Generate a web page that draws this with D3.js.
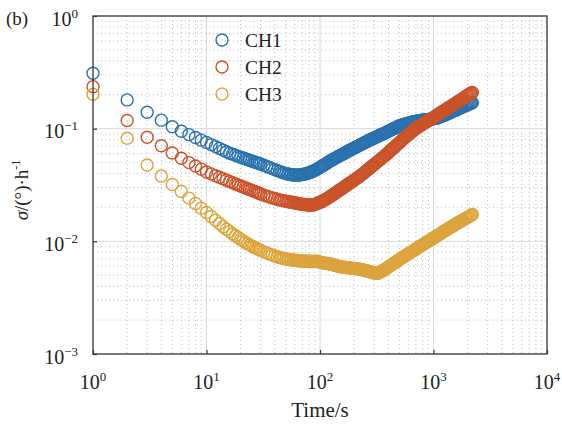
<!DOCTYPE html>
<html>
<head>
<meta charset="utf-8">
<script src="https://cdn.jsdelivr.net/npm/d3@7"></script>
<style>
  body { margin: 0; background: #fff; }
  text { font-family: "Liberation Serif", "Times New Roman", serif; fill: #222; }
</style>
</head>
<body>
<div id="chart"></div>
<script>
// averaging time (s)
const tau = [1,2,3,4,5,6,7,8,9,10,11,12,13,14,15,16,17,18,19,20,
  21,22,23,24,25,26,27,28,29,30,32,34,36,38,40,42,44,46,48,
  50,52,53,55,56,58,59,61,62,64,
  65,67,68,70,72,74,76,78,80,82,
  84,86,88,90,93,95,98,100,103,105,
  108,111,114,117,120,123,126,129,132,135,
  138,141,145,148,152,156,160,164,168,172,
  176,180,185,190,194,199,204,209,214,220,
  225,230,236,242,248,254,260,266,273,280,
  287,294,301,308,316,324,332,340,348,357,
  366,375,384,394,403,413,423,434,444,455,
  466,478,490,502,514,527,540,554,567,581,
  595,610,625,640,656,672,689,706,723,741,
  759,778,797,817,837,858,879,901,923,946,
  969,993,1017,1042,1068,1094,1121,1149,1177,1206,
  1236,1267,1298,1330,1363,1397,1431,1467,1503,1540,
  1578,1618,1657,1698,1740,1784,1827,1872,1918,1966,
  2014,2064,2115,2158,2200];

const ch1 = [0.310,0.180,0.140,0.119,0.104,0.0948,0.0886,0.0835,0.0791,0.0755,
  0.0722,0.0693,0.0668,0.0645,0.0624,0.0606,0.0592,0.0580,0.0568,0.0558,
  0.0549,0.0540,0.0531,0.0524,0.0516,0.0509,0.0503,0.0497,0.0491,0.0485,
  0.0474,0.0462,0.0452,0.0442,0.0433,0.0425,0.0418,0.0411,0.0405,
  0.0400,0.0397,0.0394,0.0392,0.0390,0.0389,0.0388,0.0387,0.0387,0.0387,
  0.0388,0.0389,0.0390,0.0392,0.0394,0.0396,0.0399,0.0402,0.0406,0.0410,
  0.0413,0.0418,0.0422,0.0427,0.0433,0.0440,0.0447,0.0454,0.0461,0.0468,
  0.0474,0.0483,0.0491,0.0500,0.0508,0.0516,0.0524,0.0531,0.0538,0.0545,
  0.0551,0.0559,0.0566,0.0574,0.0581,0.0589,0.0597,0.0605,0.0613,0.0622,
  0.0630,0.0639,0.0647,0.0655,0.0663,0.0672,0.0680,0.0689,0.0697,0.0707,
  0.0716,0.0725,0.0734,0.0744,0.0754,0.0763,0.0771,0.0781,0.0790,0.0800,
  0.0810,0.0819,0.0828,0.0838,0.0847,0.0858,0.0868,0.0878,0.0888,0.0897,
  0.0906,0.0918,0.0929,0.0941,0.0952,0.0964,0.0975,0.0987,0.0999,0.101,
  0.102,0.1035,0.105,0.106,0.107,0.108,0.109,0.1095,0.110,0.111,
  0.112,0.1125,0.113,0.114,0.115,0.1155,0.116,0.1165,0.117,0.1175,
  0.118,0.1185,0.119,0.1195,0.120,0.120,0.120,0.1205,0.121,0.1215,
  0.122,0.1225,0.123,0.1235,0.124,0.125,0.126,0.1275,0.129,0.130,
  0.131,0.1325,0.134,0.1355,0.137,0.1385,0.140,0.142,0.144,0.145,
  0.146,0.148,0.150,0.1515,0.153,0.155,0.157,0.1585,0.160,0.162,
  0.164,0.1655,0.167,0.1685,0.170];

const ch2 = [0.236,0.118,0.0838,0.0705,0.0608,0.0546,0.0500,0.0466,0.0437,0.0412,
  0.0397,0.0382,0.0370,0.0359,0.0349,0.0340,0.0331,0.0323,0.0316,0.0310,
  0.0304,0.0299,0.0293,0.0288,0.0284,0.0279,0.0275,0.0271,0.0267,0.0263,
  0.0257,0.0252,0.0247,0.0243,0.0240,0.0236,0.0233,0.0231,0.0229,
  0.0227,0.0226,0.0224,0.0223,0.0222,0.0221,0.0220,0.0219,0.0218,0.0217,
  0.0216,0.0215,0.0214,0.0213,0.0212,0.0212,0.0211,0.0211,0.0210,0.0210,
  0.0210,0.0210,0.0211,0.0213,0.0215,0.0218,0.0220,0.0222,0.0224,0.0228,
  0.0231,0.0235,0.0238,0.0242,0.0246,0.0250,0.0254,0.0258,0.0262,0.0266,
  0.0270,0.0275,0.0280,0.0285,0.0289,0.0294,0.0299,0.0305,0.0310,0.0315,
  0.0320,0.0326,0.0331,0.0337,0.0342,0.0349,0.0355,0.0361,0.0366,0.0373,
  0.0380,0.0387,0.0394,0.0403,0.0411,0.0419,0.0427,0.0436,0.0444,0.0454,
  0.0463,0.0473,0.0482,0.0492,0.0502,0.0513,0.0523,0.0534,0.0545,0.0556,
  0.0567,0.0579,0.0591,0.0605,0.0618,0.0633,0.0647,0.0661,0.0675,0.0691,
  0.0706,0.0722,0.0738,0.0755,0.0771,0.0789,0.0806,0.0825,0.0843,0.0862,
  0.0881,0.0898,0.0915,0.0935,0.0955,0.0975,0.0995,0.101,0.103,0.1045,
  0.106,0.1075,0.109,0.111,0.113,0.1145,0.116,0.118,0.120,0.1215,
  0.123,0.125,0.127,0.129,0.131,0.1335,0.136,0.138,0.140,0.142,
  0.144,0.1465,0.149,0.1515,0.154,0.1565,0.159,0.1615,0.164,0.1665,
  0.169,0.172,0.175,0.1775,0.180,0.183,0.186,0.1895,0.193,0.196,
  0.199,0.202,0.205,0.2075,0.210];

const ch3 = [0.202,0.0821,0.0476,0.0380,0.0319,0.0277,0.0242,0.0217,0.0197,0.0180,
  0.0166,0.0154,0.0144,0.0135,0.0128,0.0122,0.0116,0.0112,0.0108,0.0104,
  0.0101,0.00978,0.00953,0.00930,0.00909,0.00891,0.00874,0.00858,0.00845,0.00831,
  0.00807,0.00788,0.00770,0.00755,0.00741,0.00729,0.00719,0.00711,0.00704,
  0.00698,0.00695,0.00691,0.00689,0.00686,0.00683,0.00680,0.00678,0.00676,0.00675,
  0.00673,0.00672,0.00670,0.00669,0.00668,0.00667,0.00666,0.00665,0.00663,0.00663,
  0.00662,0.00662,0.00662,0.00664,0.00665,0.00663,0.00661,0.00654,0.00647,0.00645,
  0.00642,0.00640,0.00637,0.00635,0.00632,0.00629,0.00625,0.00622,0.00618,0.00614,
  0.00610,0.00606,0.00601,0.00598,0.00594,0.00592,0.00590,0.00589,0.00587,0.00585,
  0.00583,0.00582,0.00580,0.00578,0.00576,0.00575,0.00573,0.00571,0.00569,0.00567,
  0.00565,0.00562,0.00559,0.00556,0.00552,0.00549,0.00545,0.00542,0.00539,0.00535,
  0.00531,0.00528,0.00524,0.00521,0.00518,0.00523,0.00528,0.00535,0.00541,0.00549,
  0.00557,0.00566,0.00575,0.00585,0.00594,0.00605,0.00615,0.00626,0.00636,0.00647,
  0.00657,0.00668,0.00679,0.00690,0.00700,0.00712,0.00724,0.00736,0.00747,0.00759,
  0.00770,0.00782,0.00794,0.00807,0.00819,0.00833,0.00846,0.00860,0.00873,0.00888,
  0.00902,0.00916,0.00930,0.00944,0.00958,0.00974,0.00989,0.0100,0.0102,0.01035,
  0.0105,0.01065,0.0108,0.0110,0.0112,0.01135,0.0115,0.0117,0.0119,0.0121,
  0.0123,0.01245,0.0126,0.01285,0.0131,0.01325,0.0134,0.0136,0.0138,0.01405,
  0.0143,0.0145,0.0147,0.0149,0.0151,0.0153,0.0155,0.01575,0.0160,0.0162,
  0.0164,0.01665,0.0169,0.0171,0.0173];

const seriesNames = ["CH1", "CH2", "CH3"];
const seriesValues = [ch1, ch2, ch3];
const colors = ["#2a72ae", "#ca532a", "#dca43c"];

const xTickExp = ["0", "1", "2", "3", "4"];
const yTickExp = ["\u22123", "\u22122", "\u22121", "0"];

// Set dimensions and margins
const margin = {top: 16, right: 15, bottom: 70, left: 93},
    width = 562 - margin.left - margin.right,
    height = 424 - margin.top - margin.bottom;

const svg = d3.select("#chart")
    .append("svg")
    .attr("width", 562)
    .attr("height", 424)
    .append("g")
    .attr("transform", `translate(${margin.left},${margin.top})`);

const x = d3.scaleLog().domain([1, 1e4]).range([0, width]);
const y = d3.scaleLog().domain([1e-3, 1]).range([height, 0]);

const isMajor = v => Math.abs(Math.log10(v) - Math.round(Math.log10(v))) < 1e-9;

// minor grid (dotted)
svg.append("g").selectAll("line")
    .data(x.ticks().filter(v => !isMajor(v)))
    .enter().append("line")
    .attr("x1", d => x(d)).attr("x2", d => x(d))
    .attr("y1", 0).attr("y2", height)
    .attr("stroke", "#b8b8b8").attr("stroke-width", 0.9)
    .attr("stroke-dasharray", "1 3");

svg.append("g").selectAll("line")
    .data(y.ticks().filter(v => !isMajor(v)))
    .enter().append("line")
    .attr("x1", 0).attr("x2", width)
    .attr("y1", d => y(d)).attr("y2", d => y(d))
    .attr("stroke", "#b8b8b8").attr("stroke-width", 0.9)
    .attr("stroke-dasharray", "1 3");

// major grid (solid)
svg.append("g").selectAll("line")
    .data([10, 100, 1000])
    .enter().append("line")
    .attr("x1", d => x(d)).attr("x2", d => x(d))
    .attr("y1", 0).attr("y2", height)
    .attr("stroke", "#d8d8d8").attr("stroke-width", 1);

svg.append("g").selectAll("line")
    .data([1e-2, 1e-1])
    .enter().append("line")
    .attr("x1", 0).attr("x2", width)
    .attr("y1", d => y(d)).attr("y2", d => y(d))
    .attr("stroke", "#d8d8d8").attr("stroke-width", 1);

// series
seriesValues.forEach((vals, i) => {
    svg.append("g")
        .selectAll("circle")
        .data(tau.map((t, j) => ({t: t, v: vals[j]})))
        .enter().append("circle")
        .attr("cx", d => x(d.t))
        .attr("cy", d => y(d.v))
        .attr("r", 6)
        .attr("fill", "none")
        .attr("stroke", colors[i])
        .attr("stroke-width", 1.4);
});

// axes (ticks inward)
const xAxis = svg.append("g")
    .attr("transform", `translate(0,${height})`)
    .call(d3.axisBottom(x).tickValues([1, 10, 100, 1000, 10000]).tickSize(-4).tickFormat(""));
const yAxis = svg.append("g")
    .call(d3.axisLeft(y).tickValues([1e-3, 1e-2, 1e-1, 1]).tickSize(-4).tickFormat(""));
[xAxis, yAxis].forEach(a => {
    a.select(".domain").remove();
    a.selectAll(".tick line").attr("stroke", "#333").attr("stroke-width", 1.2);
});

// frame
svg.append("rect")
    .attr("width", width).attr("height", height)
    .attr("fill", "none")
    .attr("stroke", "#333").attr("stroke-width", 1.3);

// tick labels with superscripts
svg.append("g").selectAll("text")
    .data([1, 10, 100, 1000, 10000])
    .enter().append("text")
    .attr("x", d => x(d))
    .attr("y", height + 35)
    .attr("text-anchor", "middle")
    .attr("font-size", 20)
    .each(function (d, i) {
        const t = d3.select(this);
        t.append("tspan").text("10");
        t.append("tspan").attr("font-size", 13).attr("dy", -8).text(xTickExp[i]);
    });

svg.append("g").selectAll("text")
    .data([1e-3, 1e-2, 1e-1, 1])
    .enter().append("text")
    .attr("x", -15)
    .attr("y", d => y(d) + 9.5)
    .attr("text-anchor", "end")
    .attr("font-size", 20)
    .each(function (d, i) {
        const t = d3.select(this);
        t.append("tspan").text("10");
        t.append("tspan").attr("font-size", 13).attr("dy", -8).text(yTickExp[i]);
    });

// axis titles
svg.append("text")
    .attr("x", width / 2)
    .attr("y", height + 63)
    .attr("text-anchor", "middle")
    .attr("font-size", 21)
    .text("Time/s");

const yl = svg.append("text")
    .attr("transform", `translate(${-65},${height / 2 + 5}) rotate(-90)`)
    .attr("text-anchor", "middle")
    .attr("font-size", 19);
yl.append("tspan").attr("font-style", "italic").text("\u03c3");
yl.append("tspan").text("/(\u00b0)\u00b7h");
yl.append("tspan").attr("font-size", 12).attr("dy", -8).text("-1");

svg.append("text")
    .attr("x", 6 - margin.left)
    .attr("y", 9)
    .attr("font-size", 19)
    .text("(b)");

// legend
const legend = svg.append("g").selectAll("g")
    .data(seriesNames)
    .enter().append("g")
    .attr("transform", (d, i) => `translate(129,${24 + i * 27})`);
legend.append("circle")
    .attr("r", 6)
    .attr("fill", "none")
    .attr("stroke", (d, i) => colors[i])
    .attr("stroke-width", 1.4);
legend.append("text")
    .attr("x", 23)
    .attr("y", 7)
    .attr("font-size", 19.5)
    .text(d => d);
</script>
</body>
</html>
